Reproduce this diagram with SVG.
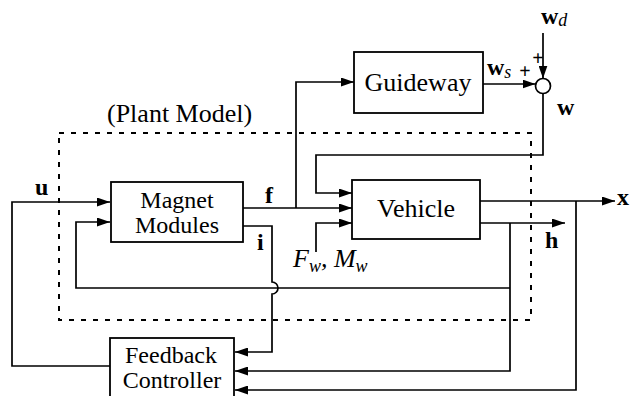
<svg xmlns="http://www.w3.org/2000/svg" width="632" height="396" viewBox="0 0 632 396">
<defs>
<marker id="arr" markerUnits="userSpaceOnUse" markerWidth="13" markerHeight="9" refX="13" refY="4.5" orient="auto">
<path d="M0,0 L13,4.5 L0,9 z" fill="#000"/>
</marker>
<style>
.box{fill:#fff;stroke:#000;stroke-width:1.8}
.ln{fill:none;stroke:#000;stroke-width:1.7}
.dash{fill:none;stroke:#000;stroke-width:2;stroke-dasharray:5 7}
.t{font-family:"Liberation Serif","Times New Roman",serif;font-size:26px;fill:#000}
.t2{font-family:"Liberation Serif","Times New Roman",serif;font-size:24px;fill:#000}
.b{font-family:"Liberation Serif","Times New Roman",serif;font-size:24px;font-weight:bold;fill:#000}
.pl{font-family:"Liberation Serif","Times New Roman",serif;font-size:20px;font-weight:bold;fill:#000}
.it{font-family:"Liberation Serif","Times New Roman",serif;font-size:26px;font-style:italic;fill:#000}
.sub{font-size:18px;font-style:italic;font-weight:normal}
</style>
</defs>
<rect width="632" height="396" fill="#fff"/>

<g id="plant-model">
<rect class="dash" x="59" y="133" width="472" height="187"/>
<text class="t" x="107" y="122">(Plant Model)</text>
</g>

<g id="connectors">
<path class="ln" d="M110,366 H12 V202 H110" marker-end="url(#arr)"/>
<path class="ln" d="M510,288 H76 V222 H110" marker-end="url(#arr)"/>
<path class="ln" d="M243,208 H352" marker-end="url(#arr)"/>
<path class="ln" d="M296,208 V82 H354" marker-end="url(#arr)"/>
<path class="ln" d="M483,84 H535.5" marker-end="url(#arr)"/>
<path class="ln" d="M543,33 V78.5" marker-end="url(#arr)"/>
<path class="ln" d="M543,93.5 V155 H316 V193 H352" marker-end="url(#arr)"/>
<path class="ln" d="M316,252 V223 H352" marker-end="url(#arr)"/>
<path class="ln" d="M480,201 H615" marker-end="url(#arr)"/>
<path class="ln" d="M576,201 V390 H235" marker-end="url(#arr)"/>
<path class="ln" d="M480,223 H565" marker-end="url(#arr)"/>
<path class="ln" d="M510,223 V371 H235" marker-end="url(#arr)"/>
<path class="ln" d="M243,226 H272 V282 A6,6 0 0 1 272,294 V352 H235" marker-end="url(#arr)"/>
</g>

<g id="magnet-modules">
<rect class="box" x="111" y="182" width="132" height="60"/>
<text class="t2" x="177" y="208" text-anchor="middle">Magnet</text>
<text class="t2" x="177" y="233" text-anchor="middle">Modules</text>
</g>

<g id="guideway">
<rect class="box" x="354" y="52" width="129" height="61"/>
<text class="t" x="418" y="91" text-anchor="middle">Guideway</text>
</g>

<g id="vehicle">
<rect class="box" x="352" y="180" width="128" height="59"/>
<text class="t" x="416" y="217" text-anchor="middle">Vehicle</text>
</g>

<g id="feedback-controller">
<rect class="box" x="110" y="338" width="124" height="70"/>
<text class="t2" x="171" y="363" text-anchor="middle">Feedback</text>
<text class="t2" x="172" y="388" text-anchor="middle">Controller</text>
</g>

<g id="sum">
<circle cx="543" cy="86" r="7.5" fill="#fff" stroke="#000" stroke-width="1.7"/>
<text class="pl" x="538" y="65" text-anchor="middle">+</text>
<text class="pl" x="525" y="78" text-anchor="middle">+</text>
</g>

<g id="labels">
<text class="b" x="35" y="195">u</text>
<text class="b" x="265" y="203">f</text>
<text class="b" x="257" y="250">i</text>
<text class="b" x="545" y="248">h</text>
<text class="b" x="617" y="205">x</text>
<text class="b" x="557" y="115">w</text>
<text class="b" x="487" y="75">w<tspan class="sub" dy="3">s</tspan></text>
<text class="b" x="541" y="24">w<tspan class="sub" dy="2">d</tspan></text>
<text class="it" x="293" y="267">F<tspan class="sub" dy="5">w</tspan><tspan dy="-5">,  M</tspan><tspan class="sub" dy="5">w</tspan></text>
</g>
</svg>
